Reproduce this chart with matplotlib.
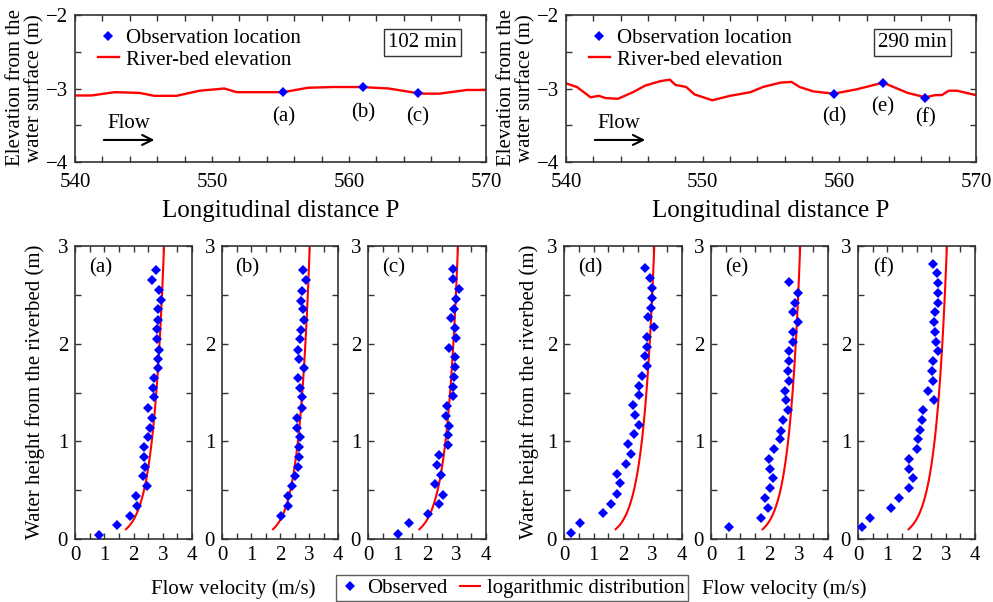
import numpy as np
import matplotlib
matplotlib.use("Agg")
import matplotlib.pyplot as plt
from matplotlib.ticker import MultipleLocator

plt.rcParams['font.family'] = ['Liberation Serif', 'DejaVu Serif']
plt.rcParams['font.size'] = 15
plt.rcParams['mathtext.fontset'] = 'stix'

# ---- top panels: river-bed profile ----
bed_x_102 = [540, 541.2, 542.9, 544.7, 545.8, 547.4, 549.1, 550.9, 551.8, 554.0, 555.2,
             557.0, 558.8, 560.9, 562.9, 564.9, 565.5, 566.6, 568.6, 570]
bed_z_102 = [-3.095, -3.095, -3.05, -3.06, -3.10, -3.10, -3.03, -3.00, -3.05, -3.05, -3.05,
             -2.99, -2.98, -2.98, -3.00, -3.06, -3.07, -3.07, -3.02, -3.02]
obs_x_102 = [555.2, 561.0, 565.0]
obs_z_102 = [-3.05, -2.98, -3.06]
obs_lab_102 = ['(a)', '(b)', '(c)']
lab_z_102 = [-3.39, -3.33, -3.39]

bed_x_290 = [540, 540.8, 541.8, 542.4, 542.9, 543.8, 544.9, 545.8, 546.9, 547.6, 548.0,
             548.8, 549.4, 550.7, 552.0, 553.5, 554.4, 555.7, 556.5, 557.1, 558.1, 559.6,
             561.3, 563.2, 565.0, 566.3, 567.0, 567.5, 568.0, 568.6, 570]
bed_z_290 = [-2.93, -2.98, -3.12, -3.10, -3.13, -3.14, -3.05, -2.96, -2.90, -2.88, -2.95,
             -2.98, -3.08, -3.16, -3.10, -3.05, -2.98, -2.92, -2.91, -2.98, -3.04, -3.07,
             -3.01, -2.92, -3.06, -3.12, -3.09, -3.09, -3.03, -3.03, -3.09]
obs_x_290 = [559.6, 563.2, 566.3]
obs_z_290 = [-3.07, -2.92, -3.13]
obs_lab_290 = ['(d)', '(e)', '(f)']
lab_z_290 = [-3.38, -3.25, -3.40]

# ---- bottom panels: velocity profiles ----
h_a = [2.75, 2.65, 2.55, 2.45, 2.35, 2.24, 2.15, 2.05, 1.94, 1.84, 1.75, 1.65, 1.55, 1.45,
       1.34, 1.24, 1.14, 1.04, 0.94, 0.84, 0.74, 0.64, 0.54, 0.44, 0.34, 0.24, 0.14, 0.04]
v_a = [2.76, 2.64, 2.88, 2.93, 2.83, 2.83, 2.79, 2.79, 2.87, 2.85, 2.85, 2.71, 2.66, 2.71,
       2.51, 2.62, 2.56, 2.51, 2.36, 2.36, 2.39, 2.34, 2.45, 2.09, 2.13, 1.88, 1.42, 0.82]

h_b = [2.75, 2.65, 2.54, 2.44, 2.35, 2.24, 2.14, 2.05, 1.94, 1.84, 1.75, 1.65, 1.55, 1.45,
       1.34, 1.24, 1.14, 1.04, 0.94, 0.84, 0.74, 0.64, 0.54, 0.44, 0.34, 0.24]
v_b = [2.80, 2.88, 2.77, 2.72, 2.78, 2.84, 2.72, 2.69, 2.63, 2.67, 2.83, 2.61, 2.69, 2.75,
       2.75, 2.60, 2.60, 2.69, 2.66, 2.67, 2.63, 2.52, 2.40, 2.29, 2.29, 2.03]

h_c = [2.76, 2.66, 2.56, 2.46, 2.36, 2.26, 2.16, 2.06, 1.96, 1.86, 1.76, 1.66, 1.56, 1.46,
       1.36, 1.26, 1.16, 1.06, 0.96, 0.86, 0.76, 0.66, 0.56, 0.45, 0.36, 0.26, 0.16, 0.05]
v_c = [2.87, 2.87, 3.07, 2.98, 2.90, 2.82, 2.96, 2.98, 2.76, 2.96, 2.96, 2.93, 2.87, 2.87,
       2.68, 2.64, 2.76, 2.72, 2.72, 2.42, 2.33, 2.47, 2.28, 2.53, 2.39, 2.05, 1.38, 1.02]

h_d = [2.77, 2.67, 2.57, 2.47, 2.37, 2.27, 2.17, 2.07, 1.97, 1.87, 1.77, 1.67, 1.57, 1.47,
       1.37, 1.27, 1.17, 1.07, 0.97, 0.87, 0.77, 0.67, 0.57, 0.46, 0.36, 0.27, 0.16, 0.06]
v_d = [2.74, 2.91, 2.97, 2.97, 2.95, 2.86, 3.06, 2.80, 2.80, 2.74, 2.80, 2.65, 2.55, 2.54,
       2.35, 2.40, 2.54, 2.38, 2.18, 2.27, 2.09, 1.78, 1.90, 1.78, 1.61, 1.31, 0.53, 0.25]

h_e = [2.63, 2.52, 2.42, 2.32, 2.22, 2.12, 2.02, 1.92, 1.82, 1.72, 1.62, 1.52, 1.42, 1.32,
       1.22, 1.11, 1.02, 0.92, 0.82, 0.72, 0.62, 0.52, 0.42, 0.32, 0.22, 0.12]
v_e = [2.67, 2.98, 2.87, 2.81, 2.96, 2.79, 2.79, 2.67, 2.67, 2.64, 2.67, 2.53, 2.56, 2.64,
       2.47, 2.41, 2.36, 2.15, 1.99, 2.01, 2.13, 2.01, 1.84, 1.96, 1.70, 0.62]

h_f = [2.82, 2.72, 2.62, 2.52, 2.42, 2.32, 2.22, 2.12, 2.02, 1.92, 1.82, 1.72, 1.62, 1.52,
       1.42, 1.32, 1.22, 1.12, 1.02, 0.92, 0.82, 0.72, 0.62, 0.52, 0.42, 0.32, 0.21, 0.12]
v_f = [2.56, 2.70, 2.73, 2.73, 2.75, 2.64, 2.61, 2.64, 2.66, 2.73, 2.56, 2.53, 2.58, 2.38,
       2.60, 2.22, 2.18, 2.13, 2.05, 2.01, 1.73, 1.73, 1.88, 1.76, 1.41, 1.13, 0.40, 0.14]

# logarithmic law u = u*/kappa * ln(z/z0), parameters per panel
ustar = [0.153, 0.149, 0.154, 0.154, 0.151, 0.154]
z0 = [0.00105, 0.00089, 0.00109, 0.00106, 0.00093, 0.00112]
kappa = 0.4

panel_names = ['(a)', '(b)', '(c)', '(d)', '(e)', '(f)']
h_all = [h_a, h_b, h_c, h_d, h_e, h_f]
v_all = [v_a, v_b, v_c, v_d, v_e, v_f]

BLUE = '#0000FF'
RED = '#FF0000'
FRAME = '#333333'

W, H = 993, 602
fig = plt.figure(figsize=(W / 100, H / 100), dpi=100)


def box(l, t, r, b):
    return [l / W, 1 - b / H, (r - l) / W, (b - t) / H]


def style(ax, xpad=5):
    for s in ax.spines.values():
        s.set_color(FRAME)
        s.set_linewidth(1.2)
    ax.tick_params(which='both', direction='in', top=True, right=True,
                   length=4, width=1.0, color=FRAME, labelsize=15, pad=5)
    ax.tick_params(axis='x', which='both', pad=xpad)


# top panels
tops = [
    (box(75, 15, 486, 162), bed_x_102, bed_z_102, obs_x_102, obs_z_102, obs_lab_102, lab_z_102, '102 min'),
    (box(566, 15, 976, 162), bed_x_290, bed_z_290, obs_x_290, obs_z_290, obs_lab_290, lab_z_290, '290 min'),
]
for pos, bx, bz, ox, oz, olab, lz, tlabel in tops:
    ax = fig.add_axes(pos)
    ax.plot(bx, bz, color=RED, lw=1.7, label='River-bed elevation', zorder=2)
    ax.plot(ox, oz, 'D', color=BLUE, ms=5.5, mew=0, label='Observation location', zorder=3)
    for x, z, t in zip(ox, lz, olab):
        ax.text(x, z, t, ha='center', va='center', fontsize=15)
    ax.set_xlim(540, 570)
    ax.set_ylim(-4, -2)
    ax.xaxis.set_major_locator(MultipleLocator(10))
    ax.xaxis.set_minor_locator(MultipleLocator(2))
    ax.yaxis.set_major_locator(MultipleLocator(1))
    ax.yaxis.set_minor_locator(MultipleLocator(0.5))
    style(ax, xpad=8)
    h1, l1 = ax.get_legend_handles_labels()
    ax.legend(h1[::-1], l1[::-1], loc='upper left', bbox_to_anchor=(0.035, 0.965),
              frameon=False, fontsize=15, handlelength=1.0, handletextpad=0.35,
              labelspacing=0.1, borderaxespad=0)
    ax.text(0.845, 0.815, tlabel, transform=ax.transAxes, ha='center', va='center',
            fontsize=15, bbox=dict(boxstyle='square,pad=0.2', fc='white', ec=FRAME, lw=1.0))
    ax.annotate('', xy=(546.0, -3.70), xytext=(541.9, -3.70),
                arrowprops=dict(arrowstyle='->', lw=1.5, color='black',
                                mutation_scale=18))
    ax.text(543.9, -3.47, 'Flow', ha='center', va='center', fontsize=15)
    ax.set_xlabel('Longitudinal distance P', fontsize=18, labelpad=6)

fig.text(25 / W, 1 - 88 / H, 'Elevation from the\nwater surface (m)', rotation=90,
         ha='center', va='center', fontsize=15, linespacing=1.0)
fig.text(516 / W, 1 - 88 / H, 'Elevation from the\nwater surface (m)', rotation=90,
         ha='center', va='center', fontsize=15, linespacing=1.0)

# bottom panels
lefts = [(75, 192), (222, 338), (368, 486), (564, 682), (711, 828), (858, 975)]
zz = np.linspace(0.1, 3.0, 120)
for i, (l, r) in enumerate(lefts):
    ax = fig.add_axes(box(l, 246, r, 539))
    ax.plot(v_all[i], h_all[i], 'D', color=BLUE, ms=4.6, mew=0, zorder=3)
    uu = ustar[i] / kappa * np.log(zz / z0[i])
    ax.plot(uu, zz, color=RED, lw=1.5, zorder=2)
    ax.set_xlim(0, 4)
    ax.set_ylim(0, 3)
    ax.xaxis.set_major_locator(MultipleLocator(1))
    ax.xaxis.set_minor_locator(MultipleLocator(0.5))
    ax.yaxis.set_major_locator(MultipleLocator(1))
    ax.yaxis.set_minor_locator(MultipleLocator(0.5))
    style(ax)
    ax.text(0.22, 0.925, panel_names[i], transform=ax.transAxes, ha='center', va='center',
            fontsize=15)

fig.text(35 / W, 1 - 392 / H, 'Water height from the riverbed (m)', rotation=90,
         ha='center', va='center', fontsize=15)
fig.text(529 / W, 1 - 392 / H, 'Water height from the riverbed (m)', rotation=90,
         ha='center', va='center', fontsize=15)
fig.text(233 / W, 1 - 589 / H, 'Flow velocity (m/s)', ha='center', va='center', fontsize=15)
fig.text(784 / W, 1 - 589 / H, 'Flow velocity (m/s)', ha='center', va='center', fontsize=15)

# shared legend at the bottom
hd_obs = plt.Line2D([], [], ls='none', marker='D', color=BLUE, ms=5, mew=0)
hd_log = plt.Line2D([], [], color=RED, lw=1.5)
leg = fig.legend([hd_obs, hd_log], ['Observed', 'logarithmic distribution'],
                 loc='center', bbox_to_anchor=(512 / W, 1 - 588 / H), ncol=2,
                 fontsize=15, frameon=True, fancybox=False, edgecolor=FRAME,
                 handlelength=1.0, handletextpad=0.3, columnspacing=0.6,
                 borderpad=0.15, borderaxespad=0)
leg.get_frame().set_linewidth(1.0)

fig.savefig('out.png', dpi=100)
